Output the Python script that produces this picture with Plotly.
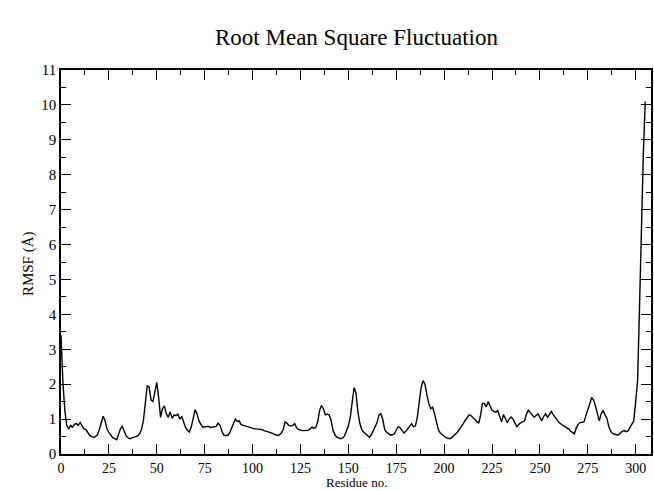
import plotly.graph_objects as go

# Per-residue RMSF profile (Å)
residue = list(range(0, 306))
rmsf = [
    3.40, 2.05, 1.25, 0.82, 0.72, 0.82, 0.77, 0.85, 0.87, 0.82,
    0.90, 0.80, 0.72, 0.70, 0.63, 0.53, 0.50, 0.48, 0.50, 0.55,
    0.70, 0.90, 1.08, 0.95, 0.72, 0.62, 0.53, 0.47, 0.44, 0.41,
    0.55, 0.72, 0.79, 0.66, 0.52, 0.46, 0.44, 0.46, 0.48, 0.48,
    0.52, 0.58, 0.70, 0.95, 1.50, 1.95, 1.92, 1.55, 1.50, 1.75,
    2.05, 1.60, 1.05, 1.30, 1.38, 1.15, 1.05, 1.20, 1.02, 1.12,
    1.10, 1.14, 1.00, 1.08, 0.90, 0.76, 0.68, 0.63, 0.77, 1.05,
    1.27, 1.15, 0.95, 0.85, 0.77, 0.78, 0.78, 0.79, 0.76, 0.77,
    0.78, 0.79, 0.88, 0.82, 0.65, 0.54, 0.53, 0.53, 0.60, 0.72,
    0.87, 1.00, 0.93, 0.95, 0.84, 0.82, 0.82, 0.80, 0.77, 0.75,
    0.72, 0.72, 0.72, 0.72, 0.71, 0.70, 0.67, 0.66, 0.64, 0.62,
    0.60, 0.58, 0.55, 0.53, 0.55, 0.60, 0.70, 0.92, 0.88, 0.82,
    0.80, 0.82, 0.87, 0.75, 0.70, 0.68, 0.67, 0.67, 0.67, 0.68,
    0.72, 0.77, 0.74, 0.76, 0.92, 1.25, 1.39, 1.29, 1.12, 1.14,
    1.12, 0.96, 0.68, 0.55, 0.48, 0.45, 0.44, 0.46, 0.52, 0.66,
    0.80, 1.05, 1.45, 1.90, 1.75, 1.20, 0.88, 0.70, 0.63, 0.57,
    0.52, 0.48, 0.55, 0.67, 0.74, 0.90, 1.12, 1.15, 0.98, 0.70,
    0.62, 0.57, 0.54, 0.55, 0.58, 0.68, 0.78, 0.76, 0.68, 0.60,
    0.65, 0.72, 0.82, 0.87, 0.78, 0.80, 1.05, 1.55, 1.90, 2.10,
    2.00, 1.70, 1.45, 1.30, 1.34, 1.15, 0.90, 0.70, 0.60, 0.54,
    0.51, 0.47, 0.46, 0.44, 0.47, 0.51, 0.57, 0.63, 0.70, 0.78,
    0.87, 0.96, 1.05, 1.12, 1.10, 1.05, 0.98, 0.93, 0.88, 1.10,
    1.45, 1.45, 1.35, 1.50, 1.35, 1.25, 1.22, 1.20, 1.24, 1.05,
    0.92, 1.13, 1.00, 0.90, 1.00, 1.06, 1.00, 0.90, 0.78, 0.85,
    0.90, 0.93, 0.95, 1.15, 1.25, 1.18, 1.12, 1.05, 1.10, 1.15,
    1.05, 0.95, 1.08, 1.15, 1.05, 1.12, 1.22, 1.12, 1.05, 0.95,
    0.90, 0.86, 0.82, 0.77, 0.75, 0.72, 0.65, 0.62, 0.58, 0.75,
    0.85, 0.90, 0.90, 0.92, 1.10, 1.25, 1.43, 1.62, 1.55, 1.38,
    1.15, 0.95, 1.15, 1.25, 1.12, 1.02, 0.78, 0.65, 0.58, 0.56,
    0.55, 0.55, 0.60, 0.65, 0.67, 0.64, 0.66, 0.75, 0.82, 0.95,
    1.50, 2.10, 4.20, 6.50, 8.60, 10.10,
]

x_ticks = list(range(0, 301, 25))
y_ticks = list(range(0, 12))

SERIF = "Liberation Serif, Times New Roman, serif"

fig = go.Figure(
    go.Scatter(
        x=residue,
        y=rmsf,
        mode="lines",
        line=dict(color="black", width=1.4),
        hoverinfo="skip",
    )
)

axis_common = dict(
    showgrid=False,
    zeroline=False,
    showline=True,
    linecolor="black",
    linewidth=1.5,
    mirror="ticks",
    ticks="inside",
    ticklen=10,
    tickwidth=1.3,
    tickcolor="black",
)

fig.update_xaxes(
    range=[0, 308],
    tickvals=x_ticks,
    ticktext=[str(v) for v in x_ticks],
    tickfont=dict(family=SERIF, size=14, color="black"),
    minor=dict(ticks="inside", ticklen=5, tickwidth=1.3, tickcolor="black", dtick=12.5, tick0=0),
    **axis_common,
)
fig.update_yaxes(
    range=[0, 11],
    tickvals=y_ticks,
    ticktext=[str(v) for v in y_ticks],
    tickfont=dict(family=SERIF, size=15, color="black"),
    minor=dict(ticks="inside", ticklen=5, tickwidth=1.3, tickcolor="black", dtick=0.5, tick0=0),
    **axis_common,
)

fig.update_layout(
    width=654,
    height=491,
    margin=dict(l=61, r=1, t=70, b=37),
    paper_bgcolor="white",
    plot_bgcolor="white",
    showlegend=False,
    annotations=[
        dict(
            text="Root Mean Square Fluctuation",
            xref="paper", yref="paper", x=0.5, y=1.0855,
            xanchor="center", yanchor="middle", showarrow=False,
            font=dict(family=SERIF, size=23, color="black"),
        ),
        dict(
            text="Residue no.",
            xref="paper", yref="paper", x=0.5, y=-0.096,
            xanchor="center", yanchor="bottom", showarrow=False,
            borderpad=0,
            font=dict(family=SERIF, size=13, color="black"),
        ),
        dict(
            text="RMSF (Å)",
            xref="paper", yref="paper", x=-0.056, y=0.497,
            xanchor="center", yanchor="middle", showarrow=False, textangle=-90,
            font=dict(family=SERIF, size=15, color="black"),
        ),
    ],
)

fig.write_html("out.html")
